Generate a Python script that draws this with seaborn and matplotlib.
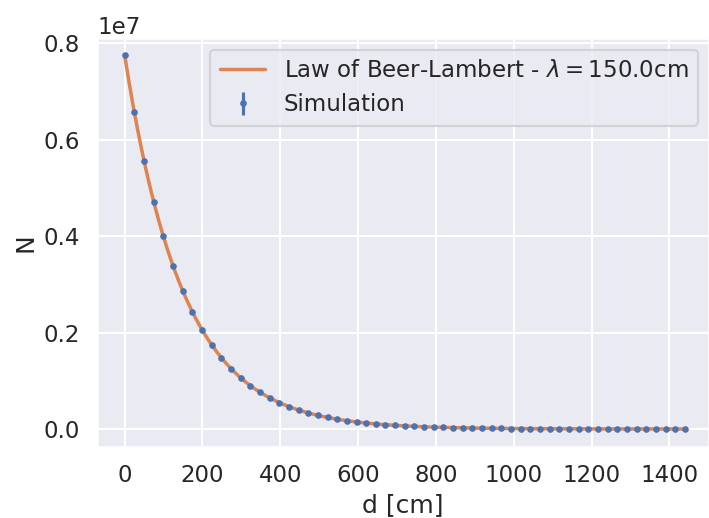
import numpy as np
import pandas as pd
import matplotlib
matplotlib.use("Agg")
import matplotlib.pyplot as plt
import seaborn as sns

# Simulated particle counts N after crossing a thickness d of material
d_cm = [0.0, 24.8, 49.7, 74.5, 99.3, 124.1, 149.0, 173.8, 198.6, 223.4,
        248.3, 273.1, 297.9, 322.8, 347.6, 372.4, 397.2, 422.1, 446.9, 471.7,
        496.6, 521.4, 546.2, 571.0, 595.9, 620.7, 645.5, 670.3, 695.2, 720.0,
        744.8, 769.7, 794.5, 819.3, 844.1, 869.0, 893.8, 918.6, 943.4, 968.3,
        993.1, 1017.9, 1042.8, 1067.6, 1092.4, 1117.2, 1142.1, 1166.9, 1191.7, 1216.6,
        1241.4, 1266.2, 1291.0, 1315.9, 1340.7, 1365.5, 1390.3, 1415.2, 1440.0]
n_counts = [7750000, 6567700, 5565800, 4716800, 3997200, 3387500, 2870700, 2432800,
            2061700, 1747200, 1480600, 1254800, 1063400, 901170, 763700, 647200,
            548470, 464800, 393900, 333810, 282890, 239730, 203160, 172170,
            145900, 123650, 104790, 88800, 75260, 63780, 54050, 45800,
            38820, 32900, 27880, 23620, 20020, 16970, 14380, 12190,
            10330, 8750, 7420, 6290, 5330, 4520, 3830, 3240,
            2750, 2330, 1970, 1670, 1420, 1200, 1020, 860,
            730, 620, 530]

# Attenuation length of the fitted Beer-Lambert law
attenuation_length = 150.0

sns.set_theme(style="darkgrid", context="talk")
plt.rcParams["font.family"] = ["DejaVu Sans"]

sim = pd.DataFrame({"d": d_cm, "N": n_counts})
sim["err"] = np.sqrt(sim["N"])

d_fine = np.linspace(min(d_cm), max(d_cm), 400)
law = pd.DataFrame({"d": d_fine,
                    "N": n_counts[0] * np.exp(-d_fine / attenuation_length)})

fig = plt.figure(figsize=(7.09, 5.18), dpi=100)
ax = fig.add_axes([97.3 / 709, 71.3 / 518, (709 - 97.3) / 709, (446.7 - 38.3) / 518])

palette = sns.color_palette("deep")
sns.lineplot(data=law, x="d", y="N", ax=ax, color=palette[1], linewidth=2.5,
             label=f"Law of Beer-Lambert - $\\lambda = ${attenuation_length}cm")
ax.errorbar(sim["d"], sim["N"], yerr=sim["err"], fmt=".", markersize=7.5,
            color=palette[0], label="Simulation", zorder=3)

ax.set_xlim(-70.4, 1502)
ax.set_ylim(-0.0367e7, 0.8104e7)
ax.set_xticks(np.arange(0, 1401, 200))
ax.set_yticks(np.arange(0, 0.81e7, 0.2e7))
ax.yaxis.set_major_formatter(matplotlib.ticker.ScalarFormatter())
ax.yaxis.get_major_formatter().set_powerlimits((7, 7))
ax.yaxis.get_major_formatter().set_useOffset(False)
ax.set_xlabel("d [cm]")
ax.set_ylabel("N")
ax.legend(loc="upper right")

fig.canvas.draw()
# one decimal on the scaled y labels (0.0, 0.2, ...)
fmt = ax.yaxis.get_major_formatter()
fmt.format = "%1.1f"

fig.savefig("out.png", dpi=100)
